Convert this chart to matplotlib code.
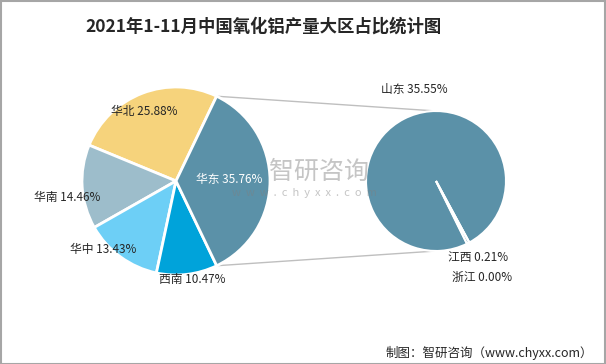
import numpy as np
import matplotlib.pyplot as plt
from matplotlib.patches import Rectangle

plt.rcParams['font.family'] = ['Noto Sans CJK SC', 'DejaVu Sans']

# 数据
regions = ['华北', '华南', '华中', '西南', '华东']
shares = [25.88, 14.46, 13.43, 10.47, 35.76]
colors = ['#F6D37C', '#9DBDCB', '#6DCFF6', '#00A3DA', '#5B91A8']

provinces = ['山东', '江西', '浙江']
prov_shares = [35.55, 0.21, 0.00]
prov_colors = ['#5B91A8', '#5B91A8', '#5B91A8']

title = '2021年1-11月中国氧化铝产量大区占比统计图'
source = '制图：智研咨询（www.chyxx.com）'

W, H = 606, 364
fig = plt.figure(figsize=(W / 100, H / 100), dpi=100)
ax = fig.add_axes([0, 0, 1, 1])

def py(y):
    # pixel y (from top) -> data y
    return H - y

# 左侧主饼图
c1 = (176, py(181))
r1 = 94
start1 = 64.4
wedges1, _ = ax.pie(shares, colors=colors, startangle=start1, counterclock=True,
                    center=c1, radius=r1, frame=True,
                    wedgeprops=dict(edgecolor='white', linewidth=2))

# 右侧子饼图
c2 = (436, py(181))
r2 = 70
wedges2, _ = ax.pie(prov_shares, colors=prov_colors, startangle=-61.6, counterclock=True,
                    center=c2, radius=r2, frame=True,
                    wedgeprops=dict(edgecolor='white', linewidth=1.5))

# 连接线
hd = wedges1[regions.index('华东')]
for ang, sgn in [(hd.theta1, -1), (hd.theta2, 1)]:
    x0 = c1[0] + r1 * np.cos(np.radians(ang))
    y0 = c1[1] + r1 * np.sin(np.radians(ang))
    ax.plot([x0, c2[0]], [y0, c2[1] + sgn * r2], color='#BFBFBF', lw=1, zorder=0)

# 标签
lab_fs = 8.5
label_pos = {'华北': (144, 112), '华南': (67, 198), '华中': (103, 249),
             '西南': (192, 280), '华东': (229, 180)}
for name, val in zip(regions, shares):
    x, y = label_pos[name]
    ax.text(x, py(y), f'{name} {val:.2f}%', ha='center', va='center', fontsize=lab_fs,
            color='white' if name == '华东' else '#262626', zorder=5)

prov_pos = {'山东': (414, 89), '江西': (478, 257), '浙江': (482, 277)}
for name, val in zip(provinces, prov_shares):
    x, y = prov_pos[name]
    ax.text(x, py(y), f'{name} {val:.2f}%', ha='center', va='center', fontsize=lab_fs,
            color='#262626', zorder=5)

# 水印
ax.text(319, py(172), '智研咨询', ha='center', va='center', fontsize=18,
        color='#7F7F7F', alpha=0.45, zorder=6)
ax.text(304, py(193), '  '.join('www.chyxx.com'), ha='center', va='center', fontsize=8,
        color='#7F7F7F', alpha=0.45, zorder=6)

# 标题和来源
ax.text(264, py(27), title, ha='center', va='center', fontsize=12.5,
        fontweight='bold', color='#262626')
ax.text(593, py(353), source, ha='right', va='center', fontsize=9, color='#262626')

ax.set_xlim(0, W)
ax.set_ylim(0, H)
ax.set_aspect('auto')
ax.axis('off')

fig.patches.append(Rectangle((0.5, 0.5), W - 1.5, H - 1.5, transform=None,
                             fill=False, edgecolor='#A6A6A6', lw=1.5))

fig.savefig('out.png', dpi=100)
